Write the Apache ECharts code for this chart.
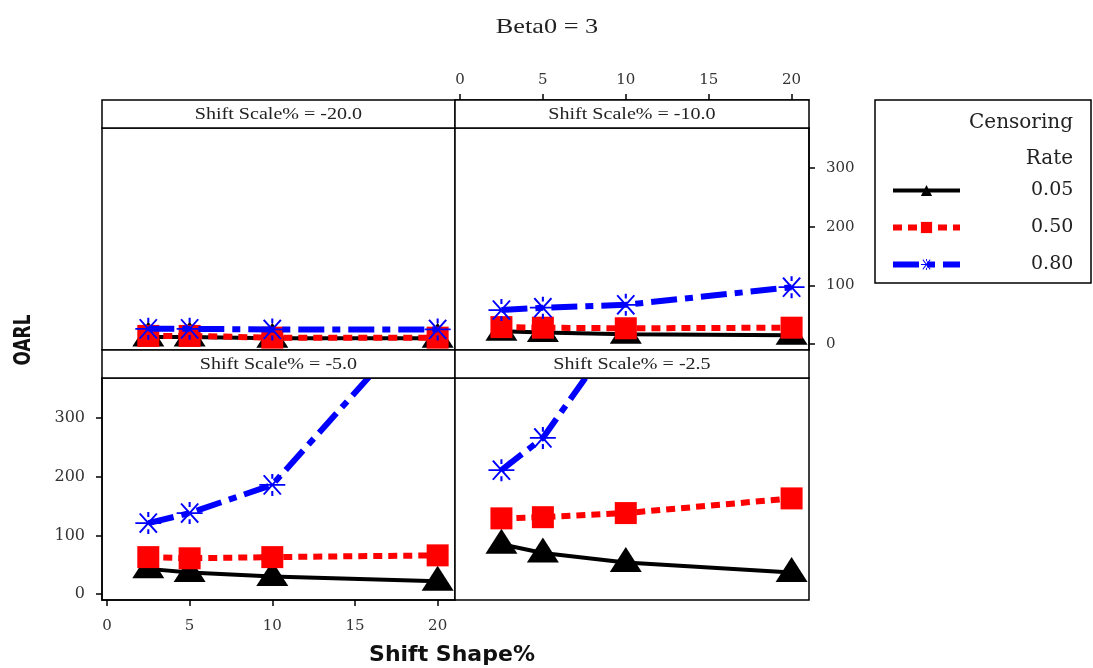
<!DOCTYPE html>
<html>
<head>
<meta charset="utf-8">
<script src="https://cdn.jsdelivr.net/npm/echarts@6/dist/echarts.min.js"></script>
<style>html,body{margin:0;padding:0;background:#fff}#c{width:1093px;height:668px}</style>
</head>
<body>
<div id="c"></div>
<script>
// ---- data ----
const shiftShape = [2.5, 5, 10, 20];
const panelLabels = ['Shift Scale% = -20.0', 'Shift Scale% = -10.0', 'Shift Scale% = -5.0', 'Shift Scale% = -2.5'];
const rates = ['0.05', '0.50', '0.80'];
const xTicks = [0, 5, 10, 15, 20];
const yTicks = [0, 100, 200, 300];
// OARL values per panel (shift scale) and censoring rate
const oarl_m20_005 = [12, 12, 10, 10];
const oarl_m20_050 = [14, 14, 11, 11];
const oarl_m20_080 = [26, 26, 25, 25];
const oarl_m10_005 = [22, 20, 17, 15];
const oarl_m10_050 = [29, 28, 27, 28];
const oarl_m10_080 = [58, 62, 67, 97];
const oarl_m5_005 = [43, 37, 30, 22];
const oarl_m5_050 = [63, 61, 63, 66];
const oarl_m5_080 = [121, 138, 186, 500];
const oarl_m25_005 = [85, 70, 54, 37];
const oarl_m25_050 = [129, 131, 138, 163];
const oarl_m25_080 = [211, 266, 465, 1000];
const panelData = [
  [oarl_m20_005, oarl_m20_050, oarl_m20_080],
  [oarl_m10_005, oarl_m10_050, oarl_m10_080],
  [oarl_m5_005, oarl_m5_050, oarl_m5_080],
  [oarl_m25_005, oarl_m25_050, oarl_m25_080]
];

// ---- layout ----
const panelBoxes = [
  {left: 102, top: 128, width: 353, height: 222},
  {left: 455, top: 128, width: 354, height: 222},
  {left: 102, top: 378, width: 353, height: 222},
  {left: 455, top: 378, width: 354, height: 222}
];
const STRIP = 28;
const serif = '"Liberation Serif", "Times New Roman", serif';
const wserif = '"DejaVu Serif", serif';
const sans = '"DejaVu Sans", "Liberation Sans", sans-serif';
const starPath = 'path://M0 46 L100 46 L100 54 L0 54 Z M14 9 L20 4 L86 91 L80 96 Z M80 4 L86 9 L20 96 L14 91 Z M46 0 L54 0 L54 22 L46 22 Z M46 78 L54 78 L54 100 L46 100 Z';

const styles = [
  {color: '#000000', line: {width: 4, type: 'solid'}, symbol: 'triangle', size: [32, 25], offset: [0, -3]},
  {color: '#ff0000', line: {width: 6, type: [9, 6]}, symbol: 'rect', size: [22, 22], offset: [0, 0]},
  {color: '#0000ff', line: {width: 6, type: [26, 8, 8, 8]}, symbol: starPath, size: [26, 22], offset: [0, 0]}
];

const grids = panelBoxes.map(b => ({left: b.left, top: b.top, width: b.width, height: b.height,
  show: true, borderColor: '#000', borderWidth: 1.5, backgroundColor: '#fff', containLabel: false}));

const tickLabelStyle = {fontFamily: wserif, fontSize: 15, color: '#333'};

const xAxes = panelBoxes.map((b, i) => {
  const ax = {type: 'value', gridIndex: i, min: -0.3, max: 21.05, splitLine: {show: false},
    axisLine: {show: false}, axisTick: {show: false}, axisLabel: {show: false}};
  if (i === 1) {
    ax.position = 'top'; ax.offset = STRIP;
    ax.axisLine = {show: true, onZero: false, lineStyle: {color: '#000', width: 1.5}};
    ax.axisTick = {show: true, length: 6, customValues: xTicks, lineStyle: {color: '#000', width: 1.5}};
    ax.axisLabel = Object.assign({show: true, margin: 12, customValues: xTicks}, tickLabelStyle);
  }
  if (i === 2) {
    ax.position = 'bottom';
    ax.axisLine = {show: true, onZero: false, lineStyle: {color: '#000', width: 1.5}};
    ax.axisTick = {show: true, length: 6, customValues: xTicks, lineStyle: {color: '#000', width: 1.5}};
    ax.axisLabel = Object.assign({show: true, margin: 19, customValues: xTicks}, tickLabelStyle);
  }
  return ax;
});

const yAxes = panelBoxes.map((b, i) => {
  const ax = {type: 'value', gridIndex: i, min: -10, max: 368, splitLine: {show: false},
    axisLine: {show: false}, axisTick: {show: false}, axisLabel: {show: false}};
  if (i === 1) {
    ax.position = 'right';
    ax.axisLine = {show: true, onZero: false, lineStyle: {color: '#000', width: 1.5}};
    ax.axisTick = {show: true, length: 6, customValues: yTicks, lineStyle: {color: '#000', width: 1.5}};
    ax.axisLabel = Object.assign({show: true, margin: 17, customValues: yTicks}, tickLabelStyle);
  }
  if (i === 2) {
    ax.position = 'left';
    ax.axisLine = {show: true, onZero: false, lineStyle: {color: '#000', width: 1.5}};
    ax.axisTick = {show: true, length: 6, customValues: yTicks, lineStyle: {color: '#000', width: 1.5}};
    ax.axisLabel = Object.assign({show: true, margin: 17, customValues: yTicks, fontSize: 16}, {fontFamily: wserif, color: '#333'});
  }
  return ax;
});

const series = [];
panelData.forEach((rows, p) => {
  rows.forEach((vals, r) => {
    const st = styles[r];
    series.push({
      name: rates[r], type: 'line', xAxisIndex: p, yAxisIndex: p,
      data: shiftShape.map((x, k) => [x, vals[k]]),
      clip: true, z: 2 + r,
      symbol: st.symbol, symbolSize: st.size, symbolOffset: st.offset, showAllSymbol: true,
      itemStyle: {color: st.color, borderWidth: 0, opacity: 1},
      lineStyle: {color: st.color, width: st.line.width, type: st.line.type},
      emphasis: {disabled: true}, animation: false
    });
  });
});

const graphic = [];
panelBoxes.forEach((b, i) => {
  graphic.push({type: 'rect', shape: {x: b.left, y: b.top - STRIP, width: b.width, height: STRIP},
    style: {fill: '#fff', stroke: '#000', lineWidth: 1.5}, z: 10});
  graphic.push({type: 'text', x: b.left + b.width / 2, y: b.top - STRIP / 2 + 1, scaleX: 1.18,
    style: {text: panelLabels[i], font: '17px ' + serif, fill: '#222', align: 'center', verticalAlign: 'middle'}, z: 11});
});
graphic.push({type: 'text', x: 547, y: 27, scaleX: 1.25, style: {text: 'Beta0 = 3', font: '21px ' + serif, fill: '#222', align: 'center', verticalAlign: 'middle'}});
graphic.push({type: 'text', x: 452, y: 655, style: {text: 'Shift Shape%', font: 'bold 22px ' + sans, fill: '#111', align: 'center', verticalAlign: 'middle'}});
graphic.push({type: 'text', x: 24, y: 340, rotation: Math.PI / 2, scaleY: 1.3, style: {text: 'OARL', font: 'bold 17px ' + sans, fill: '#111', align: 'center', verticalAlign: 'middle'}});
graphic.push({type: 'rect', shape: {x: 875, y: 100, width: 216, height: 183}, style: {fill: 'none', stroke: '#000', lineWidth: 1.5}});
graphic.push({type: 'text', x: 1073, y: 123, style: {text: 'Censoring', font: '20px ' + wserif, fill: '#222', align: 'right', verticalAlign: 'middle'}});
graphic.push({type: 'text', x: 1073, y: 159, style: {text: 'Rate', font: '20px ' + wserif, fill: '#222', align: 'right', verticalAlign: 'middle'}});

const option = {
  animation: false,
  backgroundColor: '#fff',
  grid: grids,
  xAxis: xAxes,
  yAxis: yAxes,
  series: series,
  legend: {
    data: rates, orient: 'vertical', left: 885, top: 176, itemWidth: 67, itemHeight: 14, itemGap: 18,
    selectedMode: false,
    lineStyle: {width: 'inherit'},
    textStyle: {fontFamily: wserif, fontSize: 19, color: '#222', padding: [0, 0, 0, 66]}
  },
  graphic: graphic
};
const chart = echarts.init(document.getElementById('c'), null, {renderer: 'canvas'});
chart.setOption(option);
</script>
</body>
</html>
